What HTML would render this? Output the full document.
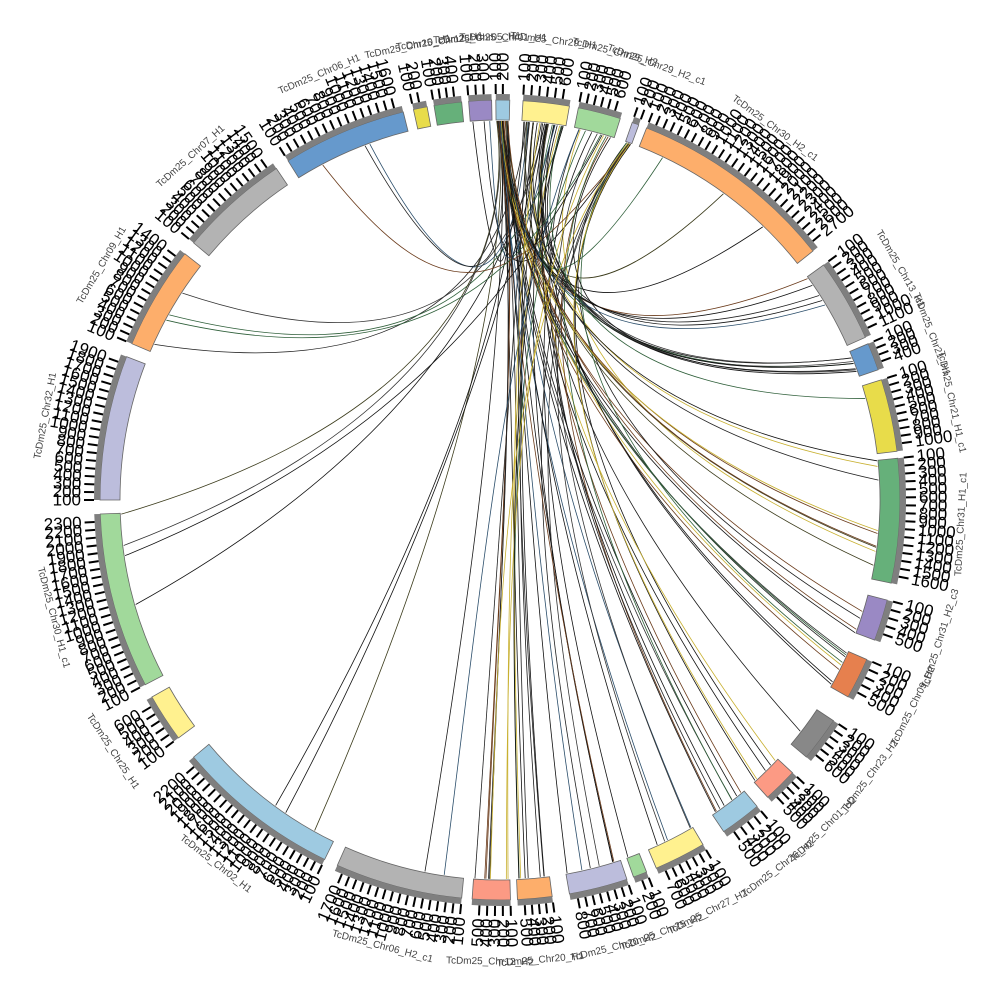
<!DOCTYPE html>
<html><head><meta charset="utf-8"><style>
html,body{margin:0;padding:0;background:#fff;width:1000px;height:1000px;overflow:hidden}
svg text{font-family:"Liberation Sans",sans-serif}
</style></head><body>
<svg id="s" width="1000" height="1000" viewBox="0 0 1000 1000" xmlns="http://www.w3.org/2000/svg"></svg>
<script>
var S=document.getElementById('s'),NS='http://www.w3.org/2000/svg',cx=500,cy=500;
function el(t,a,p){var e=document.createElementNS(NS,t);for(var k in a)e.setAttribute(k,a[k]);(p||S).appendChild(e);return e;}
function pt(r,a){var t=a*Math.PI/180;return [cx+r*Math.sin(t),cy-r*Math.cos(t)];}
function sector(r1,r2,a1,a2,fill,stroke){var p1=pt(r2,a1),p2=pt(r2,a2),p3=pt(r1,a2),p4=pt(r1,a1);var lg=(a2-a1)>180?1:0;
el('path',{d:'M'+p1+' A'+r2+' '+r2+' 0 '+lg+' 1 '+p2+' L'+p3+' A'+r1+' '+r1+' 0 '+lg+' 0 '+p4+'Z',fill:fill,stroke:stroke||'none','stroke-width':0.8});}
var segs=[
[-0.6,1.4,'#9ecae1','TcDm25_Chr01_H1'],[3.3,10,'#fff18f','TcDm25_Chr29_H1'],[11.3,17.5,'#a1d99b','TcDm25_Chr29_H2'],[19.3,20.3,'#bcbddc','TcDm25_Chr29_H2_c1'],
[21.5,51.5,'#fdae6b','TcDm25_Chr30_H2_c1'],[54,66,'#b3b3b3','TcDm25_Chr13_H1'],[67,71,'#6699cc','TcDm25_Chr21_H1'],[72.5,83,'#e8dc4a','TcDm25_Chr21_H1_c1'],
[84,102,'#66b07a','TcDm25_Chr31_H1_c1'],[104.5,110.5,'#9a89c4','TcDm25_Chr31_H2_c3'],[113.5,119.5,'#e6804e','TcDm25_Chr09_H2'],[123.5,130,'#888888','TcDm25_Chr23_H2'],
[133,138,'#fc9a84','TcDm25_Chr01_H2'],[140,146,'#9ecae1','TcDm25_Chr26_H2'],[149.5,157,'#fff18f','TcDm25_Chr27_H2'],[158.5,160.5,'#a1d99b','TcDm25_Chr25_H2'],
[161.5,170,'#bcbddc','TcDm25_Chr20_H2'],[172.5,177.5,'#fdae6b','TcDm25_Chr20_H1'],[178.5,184,'#fc9a84','TcDm25_Chr12_H2'],[185.5,204,'#b3b3b3','TcDm25_Chr06_H2_c1'],
[206,230,'#9ecae1','TcDm25_Chr02_H1'],[233.5,240.5,'#fff18f','TcDm25_Chr25_H1'],[242.5,268,'#a1d99b','TcDm25_Chr30_H1_c1'],[270,291,'#bcbddc','TcDm25_Chr32_H1'],
[293,308,'#fdae6b','TcDm25_Chr09_H1'],[310,326,'#b3b3b3','TcDm25_Chr07_H1'],[328,346,'#6699cc','TcDm25_Chr06_H1'],[347.5,349.5,'#e8dc4a','TcDm25_Chr10_H1'],
[350.5,354.5,'#66b07a','TcDm25_Chr12_H1'],[355.5,358.8,'#9a89c4','TcDm25_Chr05_H1']];
var seed=7;function rnd(){seed=(seed*9301+49297)%233280;return seed/233280;}
var cols=['#111','#111','#111','#222','#1a1a1a','#333','#3a3a1a','#2a4d6a','#2f5f3a','#6a3a1a','#c8b030'];
var G=el('g',{fill:'none'});
var hubs=[[-0.5,1.3],[-0.5,1.3],[3.5,9.8],[3.5,9.8],[11.5,17],[19.5,20.2]];
var targets=[4,5,5,6,7,7,8,8,9,10,11,12,13,13,14,14,15,16,16,17,18,19,20,21,22,24,26,28,29];
for(var i=0;i<100;i++){
 var h=hubs[Math.floor(rnd()*hubs.length)];var a1=h[0]+rnd()*(h[1]-h[0]);
 var ts=segs[targets[Math.floor(rnd()*targets.length)]];var a2=ts[0]+rnd()*(ts[1]-ts[0]);
 var p1=pt(379,a1),p2=pt(379,a2);
 var c=[508+rnd()*12,288+rnd()*10];
 var c2=[(c[0]*0.5+p2[0]*0.5)*0.6+500*0.4,(c[1]*0.5+p2[1]*0.5)*0.6+480*0.4];
 el('path',{d:'M'+p1+' C'+c+' '+c2+' '+p2,stroke:cols[Math.floor(rnd()*cols.length)],'stroke-width':0.8},G);
}
segs.forEach(function(s){
 sector(380,400,s[0],s[1],s[2],'#666');
 sector(400,406,s[0],s[1],'#7f7f7f');
 var span=s[1]-s[0],n=Math.max(1,Math.round(span/1.1));var step=span/n;
 for(var k=0;k<=n;k++){var a=s[0]+k*step;if(n>1&&k==n)continue;var a0=pt(406,a),b0=pt(416,a);
  el('line',{x1:a0[0],y1:a0[1],x2:b0[0],y2:b0[1],stroke:'#000','stroke-width':2});
  var tp=pt(419,a);var rot=a-90;var anc='start';if(a>180&&a<360){rot=a+90;anc='end';}
  var t=el('text',{x:tp[0],y:tp[1],'font-size':17,fill:'#000','text-anchor':anc,'dominant-baseline':'central',transform:'rotate('+rot+' '+tp[0]+' '+tp[1]+')'});t.textContent=String((k+1)*100);}
 var mid=(s[0]+s[1])/2,lp=pt(462,mid);var r=mid;if(mid>90&&mid<270)r=mid+180;
 var t2=el('text',{x:lp[0],y:lp[1],'font-size':10,fill:'#444','text-anchor':'middle','dominant-baseline':'central',transform:'rotate('+r+' '+lp[0]+' '+lp[1]+')'});t2.textContent=s[3];
});
</script>
</body></html>
